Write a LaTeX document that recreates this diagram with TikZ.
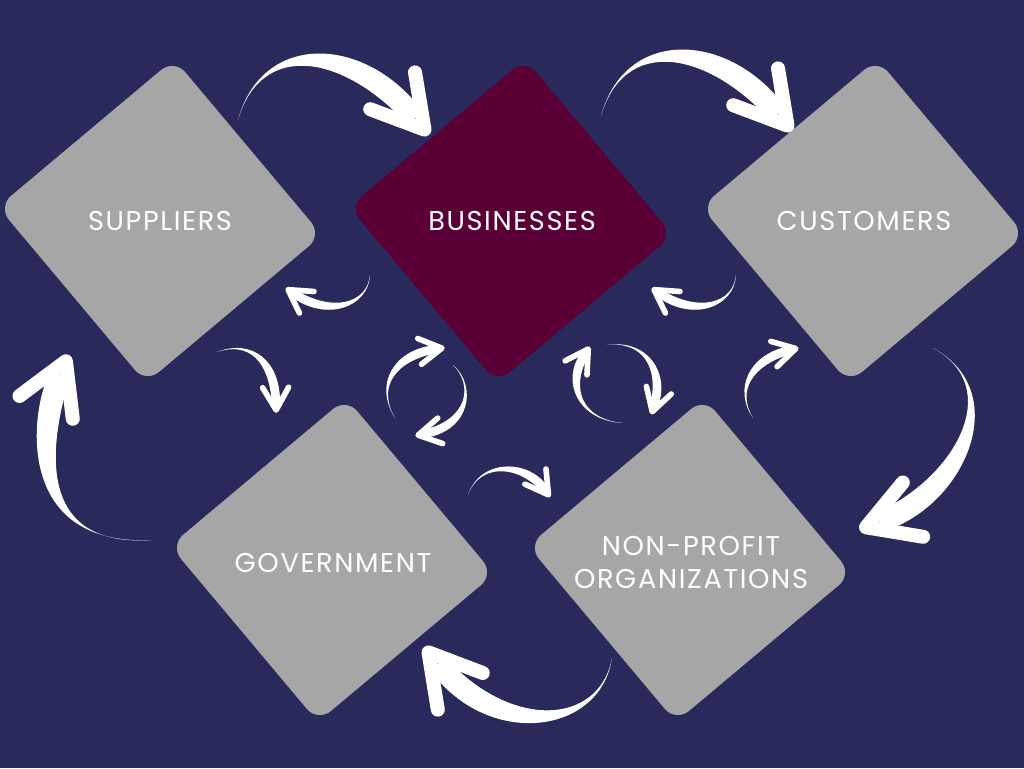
\documentclass[tikz,border=0pt]{standalone}
\usepackage{fontspec}
\setmainfont{Poppins}[LetterSpace=6]
\usetikzlibrary{calc}
\definecolor{bgnavy}{HTML}{29295B}
\definecolor{tilegray}{HTML}{A6A6A6}
\definecolor{tileplum}{HTML}{5B0037}

% tapered brush arrow: tail, control 1, control 2, head, half width, barb length, tip offset (px)
\newcommand{\brush}[7]{%
  \fill[brushfill] (#1)
    .. controls ($#2!#5*0.01cm!-90:#3$) and ($#3!#5*0.03cm!-90:(#4)$)
    .. ($(#4)!#5*0.02cm!90:#3$) -- ($(#4)!#5*0.02cm!-90:#3$)
    .. controls ($#3!#5*0.03cm!90:(#4)$) and ($#2!#5*0.01cm!90:#3$)
    .. (#1) -- cycle;
  \coordinate (tip) at ($(#4)!-#7*0.02cm!#3$);
  \draw[brushhead, line width=#5*0.028cm]
    ($(tip)!#6*0.02cm!30:(#4)$) -- (tip) -- ($(tip)!#6*0.02cm!-30:(#4)$);
}

\begin{document}
\begin{tikzpicture}[
    x=0.02cm, y=-0.02cm,
    tile/.style={rotate=40, minimum size=4.6cm, inner sep=0pt, rounded corners=0.34cm, fill=#1},
    lbl/.style={font=\fontsize{15.5}{18.8}\selectfont, text=white, align=center},
    brushfill/.style={fill=white},
    brushhead/.style={draw=white, line cap=round, line join=round},
]

% Background
\fill[bgnavy] (0,0) rectangle (1024,768);
\useasboundingbox (0,0) rectangle (1024,768);

% Sectors
\node[tile=tilegray] (sup) at (160,221) {};
\node[tile=tileplum] (bus) at (511,221) {};
\node[tile=tilegray] (cus) at (863,221) {};
\node[tile=tilegray] (gov) at (332,560) {};
\node[tile=tilegray] (non) at (690,560) {};

\node[lbl] (supl) at (160,221) {SUPPLIERS};
\node[lbl] (busl) at (512,221) {BUSINESSES};
\node[lbl] (cusl) at (864,221) {CUSTOMERS};
\node[lbl] (govl) at (333,563) {GOVERNMENT};
\node[lbl] (nonl) at (691,562) {NON-PROFIT\\ORGANIZATIONS};

% Outer cycle
\coordinate (sb-t) at (238,120); \coordinate (sb-h) at (415,118);
\coordinate (bc-t) at (601,116); \coordinate (bc-h) at (778,114);
\coordinate (cn-t) at (933,348); \coordinate (cn-h) at (880,522);
\coordinate (ng-t) at (612,658); \coordinate (ng-h) at (438,664);
\coordinate (gs-t) at (152,540); \coordinate (gs-h) at (60,375);
\brush{sb-t}{(262,35)}{(355,45)}{sb-h}{10}{58}{15}
\brush{bc-t}{(625,31)}{(718,41)}{bc-h}{10}{58}{15}
\brush{cn-t}{(1010,390)}{(960,492)}{cn-h}{10}{58}{15}
\brush{ng-t}{(600,730)}{(500,740)}{ng-h}{10}{58}{15}
\brush{gs-t}{(15,548)}{(45,410)}{gs-h}{10}{58}{15}

% Back flows
\coordinate (bs-t) at (370,275); \coordinate (bs-h) at (293,293);
\coordinate (cb-t) at (736,275); \coordinate (cb-h) at (659,293);
\brush{bs-t}{(368,305)}{(330,318)}{bs-h}{4}{26}{6}
\brush{cb-t}{(734,305)}{(696,318)}{cb-h}{4}{26}{6}

% Inner links
\coordinate (sg-t) at (217,352); \coordinate (sg-h) at (276,404);
\coordinate (nc-t) at (753,418); \coordinate (nc-h) at (790,350);
\coordinate (gn-t) at (468,495); \coordinate (gn-h) at (545,490);
\brush{sg-t}{(250,340)}{(275,360)}{sg-h}{4}{26}{6}
\brush{nc-t}{(735,390)}{(750,360)}{nc-h}{4}{26}{6}
\brush{gn-t}{(480,460)}{(525,462)}{gn-h}{4}{26}{6}

% Two-way loops
\coordinate (gb-t) at (395,418); \coordinate (gb-h) at (436,349);
\coordinate (bg-t) at (453,365); \coordinate (bg-h) at (424,434);
\coordinate (nb-t) at (623,423); \coordinate (nb-h) at (585,354);
\coordinate (bn-t) at (607,345); \coordinate (bn-h) at (654,406);
\brush{gb-t}{(375,385)}{(395,355)}{gb-h}{4}{26}{6}
\brush{bg-t}{(475,385)}{(470,425)}{bg-h}{4}{26}{6}
\brush{nb-t}{(580,420)}{(565,385)}{nb-h}{4}{26}{6}
\brush{bn-t}{(645,340)}{(665,370)}{bn-h}{4}{26}{6}

\end{tikzpicture}
\end{document}
